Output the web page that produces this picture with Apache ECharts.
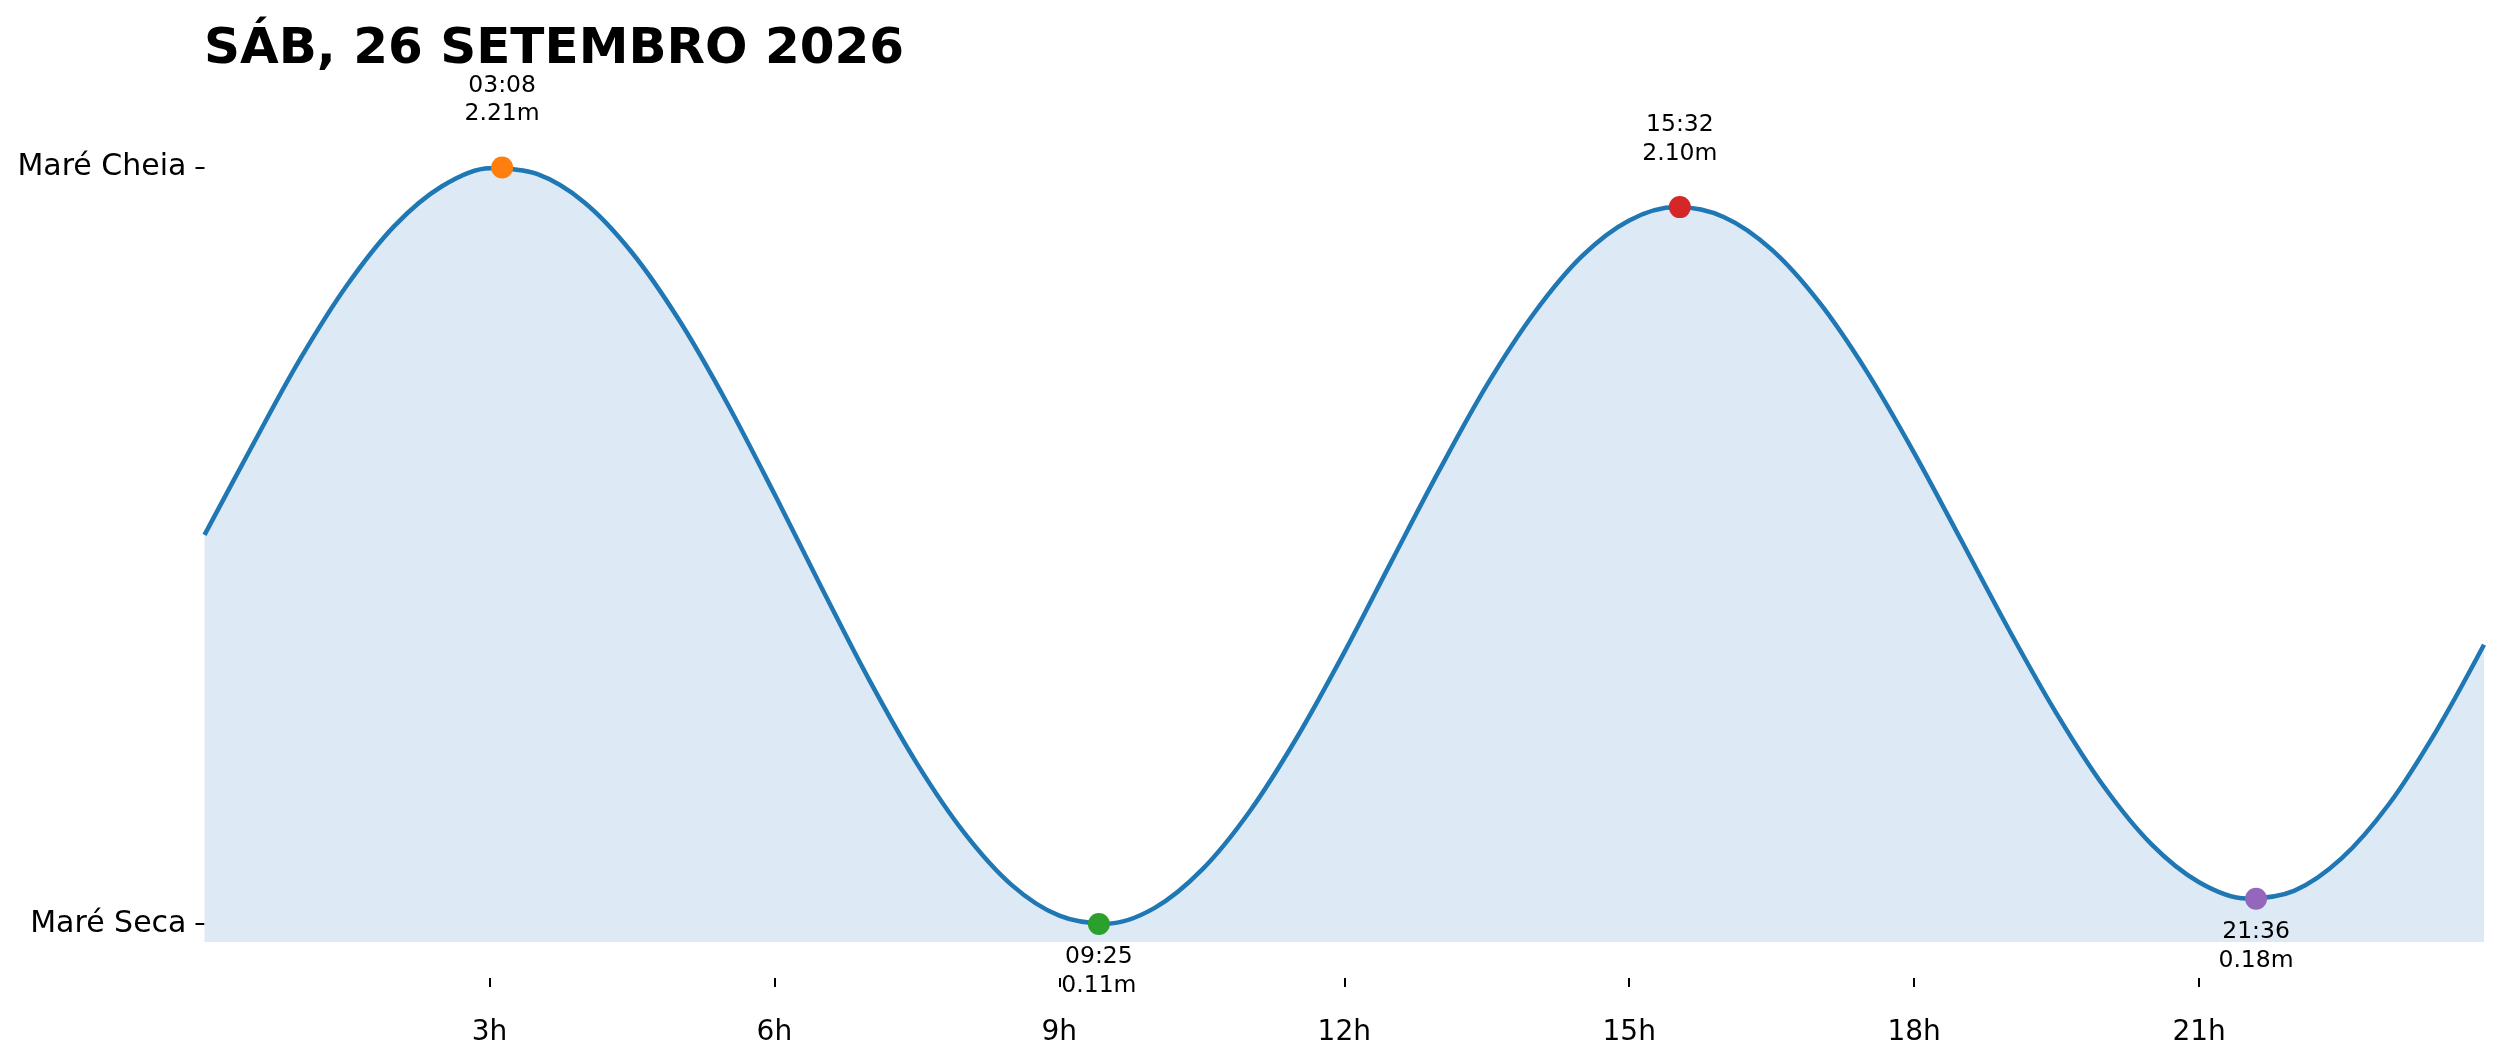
<!DOCTYPE html>
<html>
<head>
<meta charset="utf-8">
<script src="https://cdn.jsdelivr.net/npm/echarts@6/dist/echarts.min.js"></script>
<style>
html,body{margin:0;padding:0;background:#fff;}
#chart{width:2501px;height:1062px;}
</style>
</head>
<body>
<div id="chart"></div>
<script>
// ---- data ----
const titleText = 'SÁB, 26 SETEMBRO 2026';
// tide curve, sampled every half hour (hour of day, height in m)
const curveHours = [0, 0.5, 1, 1.5, 2, 2.5, 3, 3.5, 4, 4.5, 5, 5.5, 6, 6.5, 7, 7.5, 8, 8.5, 9, 9.5,
  10, 10.5, 11, 11.5, 12, 12.5, 13, 13.5, 14, 14.5, 15, 15.5, 16, 16.5, 17, 17.5, 18, 18.5, 19, 19.5,
  20, 20.5, 21, 21.5, 22, 22.5, 23, 23.5, 24];
const curveHeights = [1.190, 1.436, 1.675, 1.883, 2.048, 2.158, 2.208, 2.192, 2.113, 1.974,
  1.785, 1.557, 1.304, 1.042, 0.787, 0.556, 0.363, 0.218, 0.133, 0.111,
  0.154, 0.260, 0.421, 0.627, 0.864, 1.118, 1.369, 1.605, 1.806, 1.963,
  2.063, 2.100, 2.072, 1.982, 1.836, 1.644, 1.418, 1.173, 0.926, 0.694,
  0.491, 0.331, 0.226, 0.181, 0.202, 0.292, 0.443, 0.647, 0.885];
// extremes
const extremeTimes   = ['03:08', '09:25', '15:32', '21:36'];
const extremeHeights = [2.21, 0.11, 2.10, 0.18];
const extremeTypes   = ['high', 'low', 'high', 'low'];
// ticks
const xTickHours = [3, 6, 9, 12, 15, 18, 21];
const yTickLabels = ['Maré Seca', 'Maré Cheia'];

// ---- styles ----
const extremeColors = ['#ff7f0e', '#2ca02c', '#d62728', '#9467bd'];
const FONT = 'DejaVu Sans';

const toHours = s => { const p = s.split(':'); return +p[0] + (+p[1]) / 60; };
const lowVal = Math.min.apply(null, extremeHeights);
const highVal = Math.max.apply(null, extremeHeights);

const curveData = curveHours.map((h, i) => [h, curveHeights[i]]);
const extremeData = extremeTimes.map((t, i) => ({
  value: [toHours(t), extremeHeights[i]],
  itemStyle: { color: extremeColors[i], opacity: 1 },
  label: {
    show: true,
    position: extremeTypes[i] === 'high' ? 'top' : 'bottom',
    distance: extremeTypes[i] === 'high' ? 28 : 8,
    color: '#000',
    formatter: t + '\n' + extremeHeights[i].toFixed(2) + 'm'
  }
}));

const chart = echarts.init(document.getElementById('chart'), null, { renderer: 'canvas' });
chart.setOption({
  backgroundColor: '#ffffff',
  animation: false,
  title: {
    text: titleText,
    left: 204,
    top: 25,
    padding: 0,
    textStyle: { fontFamily: FONT, fontWeight: 'bold', fontSize: 50, color: '#000', lineHeight: 50 }
  },
  grid: { left: 204.5, right: 17, top: 63, bottom: 120, containLabel: false },
  xAxis: {
    type: 'value',
    min: 0,
    max: 24,
    offset: 36,
    axisLine: { show: false },
    splitLine: { show: false },
    axisTick: { show: true, customValues: xTickHours, length: 9, lineStyle: { color: '#000', width: 2 } },
    axisLabel: {
      customValues: xTickHours,
      formatter: v => v + 'h',
      fontFamily: FONT, fontSize: 28, color: '#000', margin: 41
    }
  },
  yAxis: {
    type: 'value',
    min: 0.06,
    max: 2.5,
    axisLine: { show: false },
    splitLine: { show: false },
    axisTick: { show: true, customValues: [lowVal, highVal], length: 9, lineStyle: { color: '#000', width: 2 } },
    axisLabel: {
      customValues: [lowVal, highVal],
      formatter: v => (Math.abs(v - highVal) < 1e-6 ? yTickLabels[1] : yTickLabels[0]),
      fontFamily: FONT, fontSize: 30, color: '#000', margin: 18
    }
  },
  series: [
    {
      type: 'line',
      data: curveData,
      smooth: 0.33,
      showSymbol: false,
      symbol: 'none',
      lineStyle: { color: '#1f77b4', width: 4.5 },
      areaStyle: { color: '#dde9f4', opacity: 1 },
      z: 2
    },
    {
      type: 'scatter',
      data: extremeData,
      symbol: 'circle',
      symbolSize: 22,
      z: 5,
      itemStyle: { opacity: 1 },
      label: {
        show: true,
        fontFamily: FONT,
        fontSize: 23.5,
        lineHeight: 28.5,
        color: '#000',
        align: 'center'
      }
    }
  ]
});
</script>
</body>
</html>
